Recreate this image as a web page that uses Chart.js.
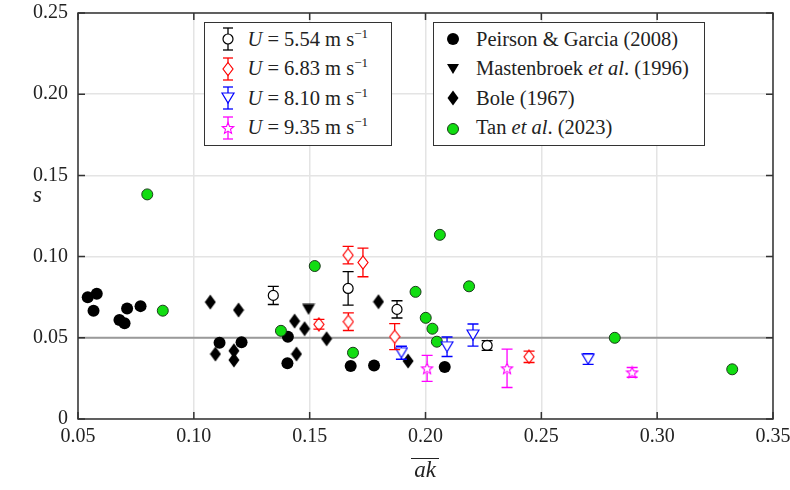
<!DOCTYPE html>
<html>
<head>
<meta charset="utf-8">
<script src="https://cdn.jsdelivr.net/npm/chart.js@4"></script>
<style>
    body { margin: 0; background: #fff; font-family: 'Liberation Serif', 'Times New Roman', serif; color: #222; }
    #wrap { position: relative; width: 790px; height: 490px; }
    #chart { position: absolute; left: 0; top: 0; }
    .legend { position: absolute; top: 22px; height: 124px; background: #fff; border: 1px solid #333; box-sizing: border-box; padding-top: 1.5px; }
    .row { height: 29.5px; display: flex; align-items: center; font-size: 20.5px; white-space: nowrap; }
    .row svg { flex: none; }
    .sup { font-size: 13px; position: relative; top: -8px; }
    .title { position: absolute; font-style: italic; font-size: 23px; }
    .over { display: inline-block; border-top: 1.5px solid #222; padding: 0 3px; line-height: 22px; }
</style>
</head>
<body>
<div id="wrap">
    <canvas id="chart" width="790" height="490"></canvas>

    <div class="legend" style="left:204px; width:188px;">
        <div class="row">
            <svg width="20" height="28" style="margin-left:12.5px"><g stroke="#000" stroke-width="1.3"><line x1="10" y1="3" x2="10" y2="25"/><line x1="5" y1="3" x2="15" y2="3"/><line x1="5" y1="25" x2="15" y2="25"/></g><circle cx="10" cy="14" r="5" fill="#fff" stroke="#000" stroke-width="1.2"/></svg>
            <span style="margin-left:10px"><i>U</i> = 5.54 m s<span class="sup">−1</span></span>
        </div>
        <div class="row">
            <svg width="20" height="28" style="margin-left:12.5px"><g stroke="#f00" stroke-width="1.3"><line x1="10" y1="3" x2="10" y2="25"/><line x1="5" y1="3" x2="15" y2="3"/><line x1="5" y1="25" x2="15" y2="25"/></g><path d="M10 7.5 L15 14 L10 20.5 L5 14 Z" fill="#fff" stroke="#f00" stroke-width="1.2"/></svg>
            <span style="margin-left:10px"><i>U</i> = 6.83 m s<span class="sup">−1</span></span>
        </div>
        <div class="row">
            <svg width="20" height="28" style="margin-left:12.5px"><g stroke="#00f" stroke-width="1.3"><line x1="10" y1="3" x2="10" y2="25"/><line x1="5" y1="3" x2="15" y2="3"/><line x1="5" y1="25" x2="15" y2="25"/></g><path d="M4 9 L16 9 L10 19 Z" fill="#fff" stroke="#00f" stroke-width="1.2"/></svg>
            <span style="margin-left:10px"><i>U</i> = 8.10 m s<span class="sup">−1</span></span>
        </div>
        <div class="row">
            <svg width="20" height="28" style="margin-left:12.5px"><g stroke="#f0f" stroke-width="1.3"><line x1="10" y1="3" x2="10" y2="25"/><line x1="5" y1="3" x2="15" y2="3"/><line x1="5" y1="25" x2="15" y2="25"/></g><path id="st" d="" fill="#fff" stroke="#f0f" stroke-width="1.1"/></svg>
            <span style="margin-left:10px"><i>U</i> = 9.35 m s<span class="sup">−1</span></span>
        </div>
    </div>

    <div class="legend" style="left:433px; width:272px;">
        <div class="row">
            <svg width="16" height="28" style="margin-left:10.5px"><circle cx="8" cy="14" r="6" fill="#000"/></svg>
            <span style="margin-left:15.5px">Peirson &amp; Garcia (2008)</span>
        </div>
        <div class="row">
            <svg width="16" height="28" style="margin-left:10.5px"><path d="M2 9 L14 9 L8 19 Z" fill="#000"/></svg>
            <span style="margin-left:15.5px">Mastenbroek <i>et al</i>. (1996)</span>
        </div>
        <div class="row">
            <svg width="16" height="28" style="margin-left:10.5px"><path d="M8 6.5 L13.5 14 L8 21.5 L2.5 14 Z" fill="#000"/></svg>
            <span style="margin-left:15.5px">Bole (1967)</span>
        </div>
        <div class="row">
            <svg width="16" height="28" style="margin-left:10.5px"><circle cx="8" cy="15" r="5.5" fill="#11dd11" stroke="#1b3b1b" stroke-width="1"/></svg>
            <span style="margin-left:15.5px">Tan <i>et al</i>. (2023)</span>
        </div>
    </div>

    <div class="title" style="left:33px; top:182px;">s</div>
    <div class="title" style="left:385px; width:80px; top:457px; text-align:center;"><span class="over">ak</span></div>
</div>

<script>
// Peirson & Garcia (2008)
const peirsonAk = [0.0542, 0.0581, 0.0567, 0.0679, 0.0701, 0.0712, 0.0770, 0.1111, 0.1206, 0.1406, 0.1404, 0.1677, 0.1778, 0.2083];
const peirsonS  = [0.0749, 0.0771, 0.0667, 0.0609, 0.0589, 0.0681, 0.0695, 0.0470, 0.0472, 0.0507, 0.0343, 0.0326, 0.0330, 0.0320];
// Mastenbroek et al. (1996)
const mastAk = [0.1495];
const mastS  = [0.0675];
// Bole (1967)
const boleAk = [0.1071, 0.1093, 0.1173, 0.1173, 0.1193, 0.1435, 0.1443, 0.1478, 0.1573, 0.1797, 0.1925];
const boleS  = [0.0720, 0.0400, 0.0420, 0.0363, 0.0671, 0.0603, 0.0400, 0.0556, 0.0494, 0.0722, 0.0357];
// Tan et al. (2023)
const tanAk = [0.0799, 0.0866, 0.1376, 0.1522, 0.1687, 0.1957, 0.2001, 0.2030, 0.2049, 0.2062, 0.2188, 0.2817, 0.3324];
const tanS  = [0.1383, 0.0667, 0.0543, 0.0942, 0.0408, 0.0783, 0.0623, 0.0556, 0.0476, 0.1134, 0.0817, 0.0500, 0.0306];
// present experiments, with error bars
const u554Ak = [0.1343, 0.1666, 0.1877, 0.2266];
const u554S  = [0.0761, 0.0804, 0.0675, 0.0453];
const u554Err = [0.0056, 0.0103, 0.0053, 0.0030];
const u683Ak = [0.1540, 0.1666, 0.1730, 0.1667, 0.1867, 0.2447];
const u683S  = [0.0583, 0.1009, 0.0964, 0.0599, 0.0507, 0.0383];
const u683Err = [0.0030, 0.0054, 0.0088, 0.0054, 0.0080, 0.0035];
const u810Ak = [0.1896, 0.2093, 0.2205, 0.2702];
const u810S  = [0.0408, 0.0445, 0.0517, 0.0369];
const u810Err = [0.0040, 0.0060, 0.0068, 0.0033];
const u935Ak = [0.2007, 0.2352, 0.2892];
const u935S  = [0.0312, 0.0312, 0.0287];
const u935Err = [0.0080, 0.0118, 0.0030];

const xTicks = [0.05, 0.10, 0.15, 0.20, 0.25, 0.30, 0.35];
const yTicks = [0, 0.05, 0.10, 0.15, 0.20, 0.25];
const refLine = 0.05;

const pts = (xs, ys) => xs.map((v, i) => ({ x: v, y: ys[i] }));

function starPath(cx, cy, R, r) {
    let d = '';
    for (let k = 0; k < 10; k++) {
        const a = -Math.PI / 2 + k * Math.PI / 5;
        const rr = k % 2 ? r : R;
        d += (k ? 'L' : 'M') + (cx + rr * Math.cos(a)).toFixed(2) + ' ' + (cy + rr * Math.sin(a)).toFixed(2) + ' ';
    }
    return d + 'Z';
}
document.getElementById('st').setAttribute('d', starPath(10, 14.5, 6, 2.6));

function marker(w, h, draw) {
    const c = document.createElement('canvas');
    c.width = w; c.height = h;
    draw(c.getContext('2d'));
    return c;
}
const diamondFill = marker(12, 16, g => {
    g.beginPath(); g.moveTo(6, 0.5); g.lineTo(11.5, 8); g.lineTo(6, 15.5); g.lineTo(0.5, 8); g.closePath();
    g.fillStyle = '#000'; g.fill();
});
const triFill = marker(14, 12, g => {
    g.beginPath(); g.moveTo(0.5, 0.5); g.lineTo(13.5, 0.5); g.lineTo(7, 11.5); g.closePath();
    g.fillStyle = '#000'; g.fill();
});
const diamondRed = marker(12, 15, g => {
    g.beginPath(); g.moveTo(6, 1); g.lineTo(11, 7.5); g.lineTo(6, 14); g.lineTo(1, 7.5); g.closePath();
    g.fillStyle = '#fff'; g.fill(); g.strokeStyle = '#f00'; g.lineWidth = 1.2; g.stroke();
});
const triBlue = marker(14, 12, g => {
    g.beginPath(); g.moveTo(1, 1); g.lineTo(13, 1); g.lineTo(7, 11); g.closePath();
    g.fillStyle = '#fff'; g.fill(); g.strokeStyle = '#00f'; g.lineWidth = 1.2; g.stroke();
});
const starMag = marker(14, 14, g => {
    g.beginPath();
    for (let k = 0; k < 10; k++) {
        const a = -Math.PI / 2 + k * Math.PI / 5, rr = k % 2 ? 2.6 : 6;
        g.lineTo(7 + rr * Math.cos(a), 7.5 + rr * Math.sin(a));
    }
    g.closePath();
    g.fillStyle = '#fff'; g.fill(); g.strokeStyle = '#f0f'; g.lineWidth = 1.1; g.stroke();
});

const decor = {
    id: 'decor',
    beforeDatasetsDraw(chart) {
        const { ctx, chartArea: a, scales: { y } } = chart;
        const py = y.getPixelForValue(refLine);
        ctx.save();
        ctx.strokeStyle = '#9a9a9a'; ctx.lineWidth = 2;
        ctx.beginPath(); ctx.moveTo(a.left, py); ctx.lineTo(a.right, py); ctx.stroke();
        ctx.restore();
    },
    afterDatasetsDraw(chart) {
        const { ctx, scales: { x, y } } = chart;
        chart.data.datasets.forEach(ds => {
            if (!ds.errors) return;
            ctx.save();
            ctx.strokeStyle = ds.barColor; ctx.lineWidth = 1.3;
            ds.data.forEach((p, j) => {
                const px = x.getPixelForValue(p.x), py = y.getPixelForValue(p.y);
                const top = y.getPixelForValue(p.y + ds.errors[j]);
                const bot = y.getPixelForValue(p.y - ds.errors[j]);
                ctx.beginPath();
                if (py - ds.halfUp > top) { ctx.moveTo(px, top); ctx.lineTo(px, py - ds.halfUp); }
                if (bot > py + ds.halfDown) { ctx.moveTo(px, py + ds.halfDown); ctx.lineTo(px, bot); }
                ctx.moveTo(px - 5.5, top); ctx.lineTo(px + 5.5, top);
                ctx.moveTo(px - 5.5, bot); ctx.lineTo(px + 5.5, bot);
                ctx.stroke();
            });
            ctx.restore();
        });
    },
    afterDraw(chart) {
        const { ctx, chartArea: a, scales: { x, y } } = chart;
        ctx.save();
        ctx.strokeStyle = '#333'; ctx.lineWidth = 1.5;
        ctx.strokeRect(a.left, a.top, a.right - a.left, a.bottom - a.top);
        ctx.beginPath();
        xTicks.forEach(v => {
            const px = x.getPixelForValue(v);
            ctx.moveTo(px, a.bottom); ctx.lineTo(px, a.bottom - 7);
            ctx.moveTo(px, a.top); ctx.lineTo(px, a.top + 7);
        });
        yTicks.forEach(v => {
            const py = y.getPixelForValue(v);
            ctx.moveTo(a.left, py); ctx.lineTo(a.left + 7, py);
            ctx.moveTo(a.right, py); ctx.lineTo(a.right - 7, py);
        });
        ctx.stroke();
        ctx.restore();
    }
};

const tickFont = { family: "'Liberation Serif', 'Times New Roman', serif", size: 20 };

new Chart(document.getElementById('chart'), {
    type: 'scatter',
    data: {
        datasets: [
            { label: 'U = 5.54', data: pts(u554Ak, u554S), errors: u554Err, barColor: '#000', halfUp: 5, halfDown: 5,
              pointStyle: 'circle', pointRadius: 5, backgroundColor: '#fff', borderColor: '#000', borderWidth: 1.2 },
            { label: 'U = 6.83', data: pts(u683Ak, u683S), errors: u683Err, barColor: '#f00', halfUp: 6.5, halfDown: 6.5,
              pointStyle: diamondRed, pointRadius: 6 },
            { label: 'U = 8.10', data: pts(u810Ak, u810S), errors: u810Err, barColor: '#00f', halfUp: 5, halfDown: 5,
              pointStyle: triBlue, pointRadius: 6 },
            { label: 'U = 9.35', data: pts(u935Ak, u935S), errors: u935Err, barColor: '#f0f', halfUp: 5.5, halfDown: 4.5,
              pointStyle: starMag, pointRadius: 6 },
            { label: 'Tan et al. (2023)', data: pts(tanAk, tanS),
              pointStyle: 'circle', pointRadius: 5.5, backgroundColor: '#11dd11', borderColor: '#1b3b1b', borderWidth: 1 },
            { label: 'Peirson & Garcia (2008)', data: pts(peirsonAk, peirsonS),
              pointStyle: 'circle', pointRadius: 6, backgroundColor: '#000', borderWidth: 0 },
            { label: 'Mastenbroek et al. (1996)', data: pts(mastAk, mastS), pointStyle: triFill, pointRadius: 6 },
            { label: 'Bole (1967)', data: pts(boleAk, boleS), pointStyle: diamondFill, pointRadius: 6 }
        ]
    },
    options: {
        responsive: false,
        animation: false,
        events: [],
        layout: { padding: { top: 13, right: 17, left: 0, bottom: 0 } },
        plugins: { legend: { display: false }, tooltip: { enabled: false } },
        scales: {
            x: {
                type: 'linear', min: 0.05, max: 0.35,
                afterFit: s => { s.height = 71; s.paddingLeft = 0; s.paddingRight = 0; },
                afterBuildTicks: s => { s.ticks = xTicks.map(v => ({ value: v })); },
                ticks: { color: '#222', font: tickFont, padding: 6, maxRotation: 0, callback: v => v.toFixed(2) },
                grid: { color: '#e4e4e4', lineWidth: 1.5, drawTicks: false },
                border: { display: false }
            },
            y: {
                type: 'linear', min: 0, max: 0.25,
                afterFit: s => { s.width = 78; s.paddingTop = 0; s.paddingBottom = 0; },
                afterBuildTicks: s => { s.ticks = yTicks.map(v => ({ value: v })); },
                ticks: { color: '#222', font: tickFont, padding: 10, callback: v => v === 0 ? '0' : v.toFixed(2) },
                grid: { color: '#e4e4e4', lineWidth: 1.5, drawTicks: false },
                border: { display: false }
            }
        }
    },
    plugins: [decor]
});
</script>
</body>
</html>
